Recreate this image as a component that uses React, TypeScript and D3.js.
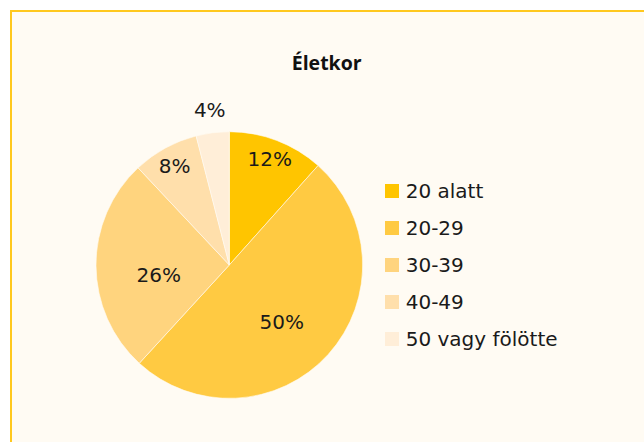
import React from "react";
import * as d3 from "d3";

const title = "Életkor";
const categories = ["20 alatt", "20-29", "30-39", "40-49", "50 vagy fölötte"];
const values = [11.6, 50.2, 26.2, 8.0, 4.0];
const labels = ["12%", "50%", "26%", "8%", "4%"];
const colors = ["#FFC500", "#FFCA42", "#FFD47E", "#FFDFAB", "#FFEED8"];

const W = 644;
const H = 442;
const BG = "#FFFBF3";
const BORDER = "#FFC81E";
const FONT = "'DejaVu Sans', 'Open Sans', sans-serif";
const TITLE_FONT = "'Open Sans', 'Noto Sans', sans-serif";

export default function App() {
  const cx = 229.3;
  const cy = 265;
  const r = 133.3;

  const pie = d3.pie<number>().sort(null).value((d) => d);
  const arcs = pie(values);
  const arc = d3.arc<d3.PieArcDatum<number>>().innerRadius(0).outerRadius(r);

  const total = d3.sum(values);
  const labelPos = (a: d3.PieArcDatum<number>) => {
    const share = a.data / total;
    const mid = (a.startAngle + a.endAngle) / 2;
    let lr = r * 1.17;
    let shift = 0;
    if (share >= 0.2) {
      lr = r * 0.53;
      shift = 9;
    } else if (share >= 0.05) {
      lr = r * 0.85;
    }
    return [Math.sin(mid) * lr, -Math.cos(mid) * lr + shift];
  };

  const legendY = d3
    .scalePoint<string>()
    .domain(categories)
    .range([191, 339]);

  return (
    <div style={{ position: "absolute", left: 0, top: 0 }}>
      <svg width={W} height={H} style={{ display: "block" }}>
        <rect x={0} y={0} width={W} height={H} fill="#ffffff" />
        <rect x={11} y={11} width={800} height={600} fill={BG} stroke={BORDER} strokeWidth={2} />
        <text
          x={326.7}
          y={70}
          textAnchor="middle"
          fontFamily={TITLE_FONT}
          fontWeight={700}
          fontSize={19.5}
          fill="#111"
        >
          {title}
        </text>
        <g transform={`translate(${cx},${cy})`}>
          {arcs.map((a, i) => (
            <path key={i} d={arc(a) || ""} fill={colors[i]} stroke={BG} strokeWidth={0.6} />
          ))}
          {arcs.map((a, i) => {
            const [x, y] = labelPos(a);
            return (
              <text
                key={"l" + i}
                x={x}
                y={y}
                dy="0.36em"
                textAnchor="middle"
                fontFamily={FONT}
                fontSize={20}
                fill="#1a1a1a"
              >
                {labels[i]}
              </text>
            );
          })}
        </g>
        <g>
          {categories.map((c, i) => (
            <g key={c} transform={`translate(385,${legendY(c)})`}>
              <rect x={0} y={-7} width={14} height={14} fill={colors[i]} />
              <text x={20.7} y={0} dy="0.36em" fontFamily={FONT} fontSize={20} fill="#1a1a1a">
                {c}
              </text>
            </g>
          ))}
        </g>
      </svg>
    </div>
  );
}
